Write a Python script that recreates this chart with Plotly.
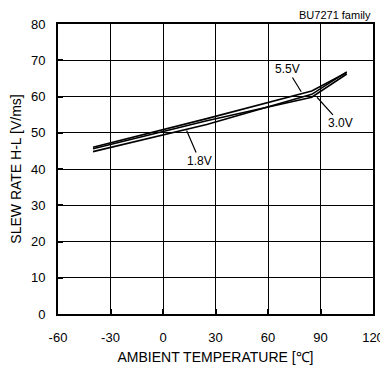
import plotly.graph_objects as go

temps = [-40, 25, 85, 105]
sr_55 = [46.0, 53.9, 61.5, 66.6]
sr_30 = [45.6, 53.3, 59.8, 66.2]
sr_18 = [44.8, 52.3, 60.6, 66.8]

x_ticks = [-60, -30, 0, 30, 60, 90, 120]
y_ticks = [0, 10, 20, 30, 40, 50, 60, 70, 80]

fig = go.Figure()
for name, ys in [("5.5V", sr_55), ("3.0V", sr_30), ("1.8V", sr_18)]:
    fig.add_trace(go.Scatter(x=temps, y=ys, mode="lines", name=name,
                             line=dict(color="black", width=1.6), showlegend=False))

FAM = "Liberation Sans, Arial, sans-serif"
font = dict(family=FAM, size=13, color="black")
tfont = dict(family=FAM, size=14, color="black")
ann = [
    ("5.5V", 79, 61.3, 71, 67.6),
    ("3.0V", 88, 59.8, 101.5, 52.6),
    ("1.8V", 13.5, 50.6, 21, 42.2),
]
for t, x, y, ax, ay in ann:
    fig.add_annotation(x=x, y=y, ax=ax, ay=ay, axref="x", ayref="y", text=t,
                       showarrow=True, arrowhead=0, arrowwidth=1.2, arrowcolor="black",
                       font=dict(family=FAM, size=12, color="black"), standoff=0, startstandoff=0)

fig.add_annotation(x=1, y=1, xref="paper", yref="paper", text="BU7271 family",
                   showarrow=False, xanchor="right", yanchor="bottom", yshift=1,
                   font=dict(family=FAM, size=11, color="black"))

axis_common = dict(showgrid=True, gridcolor="black", gridwidth=1, showline=True,
                   linecolor="black", linewidth=2, mirror=True, ticks="inside",
                   ticklen=5, tickwidth=2, tickcolor="black", zeroline=False, tickfont=font,
                   automargin=False)
fig.update_xaxes(range=[-60, 120], tickvals=x_ticks, ticktext=[str(v) for v in x_ticks],
                 ticklabelstandoff=10,
                 title=dict(text="AMBIENT TEMPERATURE [℃]", font=tfont, standoff=9), **axis_common)
fig.update_yaxes(range=[0, 80], tickvals=y_ticks, ticktext=[str(v) for v in y_ticks],
                 ticklabelstandoff=8,
                 title=dict(text="SLEW RATE H-L [V/ms]", font=tfont, standoff=13), **axis_common)

fig.update_layout(width=380, height=362, margin=dict(l=50, r=15, t=16, b=56),
                  plot_bgcolor="white", paper_bgcolor="white", font=font)
fig.write_html("out.html")
